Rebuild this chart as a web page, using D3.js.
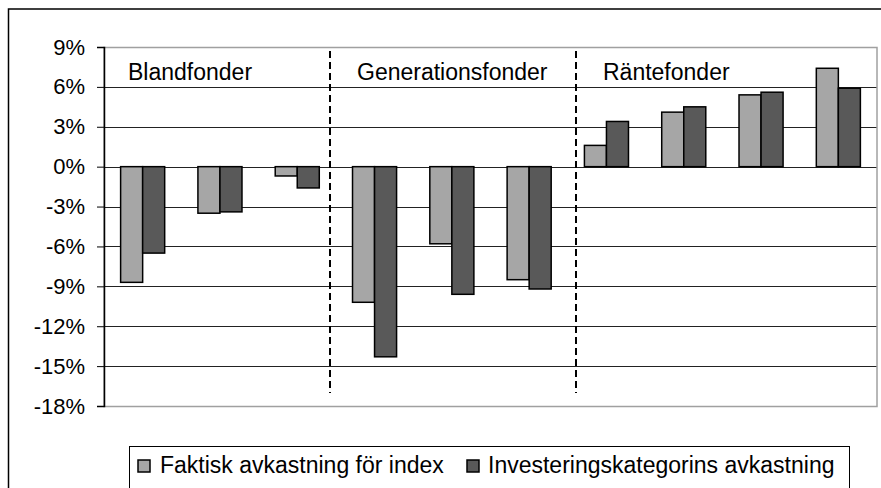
<!DOCTYPE html>
<html>
<head>
<meta charset="utf-8">
<script src="https://cdn.jsdelivr.net/npm/d3@7"></script>
<style>
  html, body { margin: 0; padding: 0; background: #fff; }
  svg { display: block; font-family: Arial, "Liberation Sans", sans-serif; }
</style>
</head>
<body>
<svg id="chart" width="881" height="488"></svg>
<script>
// Fund categories, three per group (Bland-, Generations-, Räntefonder)
const categories = ["B1", "B2", "B3", "G1", "G2", "G3", "R1", "R2", "R3", "R4"];
const seriesNames = ["Faktisk avkastning för index", "Investeringskategorins avkastning"];
const faktisk = [-8.7, -3.5, -0.7, -10.2, -5.8, -8.5, 1.6, 4.1, 5.4, 7.4];
const kategori = [-6.5, -3.4, -1.6, -14.3, -9.6, -9.2, 3.4, 4.5, 5.6, 5.9];
const yTicks = [9, 6, 3, 0, -3, -6, -9, -12, -15, -18];
const groupLabels = ["Blandfonder", "Generationsfonder", "Räntefonder"];
// Group separators sit between these categories
const separatorAfter = [2, 5];

const colors = ["#a6a6a6", "#595959"];
const svg = d3.select("#chart");

const plot = { left: 104, right: 877, top: 47, bottom: 406 };

const x = d3.scaleBand()
  .domain(categories)
  .range([plot.left, plot.right])
  .paddingInner(0.43)
  .paddingOuter(0.215);

const xs = d3.scaleBand()
  .domain(seriesNames)
  .range([0, x.bandwidth()]);

const y = d3.scaleLinear()
  .domain([-18, 9])
  .range([plot.bottom, plot.top]);

// Outer chart frame
svg.append("rect")
  .attr("x", 8.5).attr("y", 9)
  .attr("width", 900).attr("height", 500)
  .attr("fill", "none").attr("stroke", "#000").attr("stroke-width", 1.5);

// Gridlines
svg.append("g")
  .selectAll("line")
  .data(yTicks.filter(t => t !== 9 && t !== -18))
  .join("line")
  .attr("x1", plot.left).attr("x2", plot.right)
  .attr("y1", d => Math.round(y(d)) + 0.5).attr("y2", d => Math.round(y(d)) + 0.5)
  .attr("stroke", "#222").attr("stroke-width", 1);

// Plot area border
svg.append("rect")
  .attr("x", plot.left).attr("y", Math.round(y(9)) + 0.5)
  .attr("width", plot.right - plot.left)
  .attr("height", Math.round(y(-18)) - Math.round(y(9)))
  .attr("fill", "none").attr("stroke", "#a0a0a0").attr("stroke-width", 1.5);

// Group separators
const sepX = [330, 576];
svg.append("g")
  .selectAll("line")
  .data(separatorAfter)
  .join("line")
  .attr("x1", (d, i) => sepX[i]).attr("x2", (d, i) => sepX[i])
  .attr("y1", 51).attr("y2", 393)
  .attr("stroke", "#000").attr("stroke-width", 2)
  .attr("stroke-dasharray", "7,4");

// Bars
const rows = categories.map((c, i) => ({ cat: c, values: [faktisk[i], kategori[i]] }));
svg.append("g")
  .selectAll("g")
  .data(rows)
  .join("g")
  .attr("transform", d => `translate(${x(d.cat)},0)`)
  .selectAll("rect")
  .data(d => d.values.map((v, j) => ({ name: seriesNames[j], v, j })))
  .join("rect")
  .attr("x", d => xs(d.name))
  .attr("width", xs.bandwidth())
  .attr("y", d => y(Math.max(0, d.v)))
  .attr("height", d => Math.abs(y(d.v) - y(0)))
  .attr("fill", d => colors[d.j])
  .attr("stroke", "#000").attr("stroke-width", 1.5);

// Y axis
const yAxis = d3.axisLeft(y)
  .tickValues(yTicks)
  .tickSize(7)
  .tickPadding(12)
  .tickFormat(d => String(d).replace("\u2212", "-") + "%");
const ya = svg.append("g")
  .attr("transform", `translate(${plot.left},0)`)
  .call(yAxis);
ya.select(".domain").attr("stroke", "#000").attr("stroke-width", 1.5);
ya.selectAll(".tick line").attr("stroke", "#000");
ya.selectAll(".tick text")
  .attr("font-size", 22)
  .attr("font-family", "Arial, 'Liberation Sans', sans-serif")
  .attr("fill", "#000");

// Group labels
const groupX = [128, 357, 603];
svg.append("g")
  .selectAll("text")
  .data(groupLabels)
  .join("text")
  .attr("x", (d, i) => groupX[i])
  .attr("y", 80)
  .attr("font-size", 23)
  .attr("fill", "#000")
  .text(d => d);

// Legend
const legend = svg.append("g");
legend.append("rect")
  .attr("x", 129.5).attr("y", 446.5)
  .attr("width", 720).attr("height", 60)
  .attr("fill", "#fff").attr("stroke", "#000").attr("stroke-width", 1);
const legendItems = [
  { name: seriesNames[0], sx: 138, tx: 160 },
  { name: seriesNames[1], sx: 467, tx: 488 }
];
legendItems.forEach((it, i) => {
  legend.append("rect")
    .attr("x", it.sx).attr("y", 460)
    .attr("width", 12).attr("height", 12)
    .attr("fill", colors[i]).attr("stroke", "#000").attr("stroke-width", 1.5);
  legend.append("text")
    .attr("x", it.tx).attr("y", 473)
    .attr("font-size", 23)
    .attr("fill", "#000")
    .text(it.name);
});
</script>
</body>
</html>
